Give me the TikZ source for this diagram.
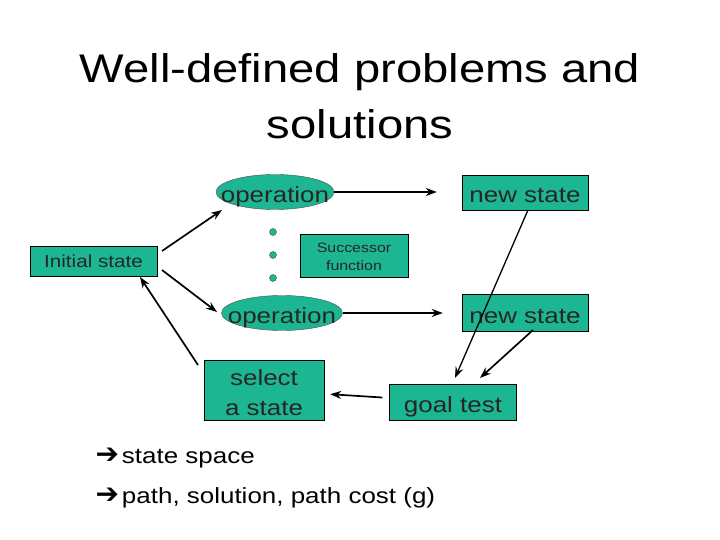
\documentclass[tikz,border=0pt]{standalone}
\usepackage{fontspec}
\setmainfont[FakeStretch=1.18]{Liberation Sans}
\newfontfamily\symfont{DejaVu Sans}
\usetikzlibrary{shapes.geometric,arrows.meta}
\definecolor{teal1}{RGB}{28,182,146}
\tikzset{
  sbox/.style={draw=black, fill=teal1, inner sep=0pt, align=center, text=black!85},
  sell/.style={ellipse, draw=black!70, fill=teal1, inner sep=0pt},
  big/.style={font=\fontsize{22}{30}\selectfont, text=black!85},
  small/.style={font=\fontsize{13.5}{18}\selectfont, text=black!85, inner sep=0pt, anchor=base},
  one/.style={text height=20pt, text depth=0pt},
  arr/.style={-{Stealth[length=11pt,width=8pt]}, line width=1.7pt},
  dotc/.style={circle, draw=black!70, fill=teal1, minimum size=7pt, inner sep=0pt}
}
\begin{document}
\begin{tikzpicture}[x=1pt,y=-1pt]
\useasboundingbox (0,0) rectangle (720,540);
\node[font=\fontsize{40}{44}\selectfont] (t1) at (360,72) {Well-defined problems and};
\node[font=\fontsize{40}{44}\selectfont] (t2) at (360,124) {solutions};
\node[sell, minimum width=118pt, minimum height=35pt] (op1) at (275,192) {};
\node[big, one, inner sep=0pt] (op1t) at (275,192.5) {operation};
\node[sbox, big, one, minimum width=126pt, minimum height=35pt] (ns1) at (525,192.5) {new state};
\node[sbox, minimum width=108pt, minimum height=43pt] (sf) at (354,255.5) {};
\node[small] (sf1) at (354,252) {Successor};
\node[small] (sf2) at (354,270.5) {function};
\node[dotc] (d1) at (273,232) {};
\node[dotc] (d2) at (273,255) {};
\node[dotc] (d3) at (273,278) {};
\node[sbox, font=\fontsize{17.5}{20}\selectfont, text height=12pt, text depth=0pt, minimum width=127pt, minimum height=30pt] (init) at (93.5,261) {Initial state};
\node[sell, minimum width=121pt, minimum height=35pt] (op2) at (282,313) {};
\node[big, one, inner sep=0pt] (op2t) at (op2.center) {operation};
\node[sbox, big, one, minimum width=126pt, minimum height=37pt] (ns2) at (525,313) {new state};
\node[sbox, big, one, minimum width=127pt, minimum height=36pt] (gt) at (453,402) {goal test};
\node[sbox, minimum width=120pt, minimum height=60pt] (sel) at (264,390) {};
\node[big, inner sep=0pt, anchor=base] (sel1) at (264,385) {select};
\node[big, inner sep=0pt, anchor=base] (sel2) at (264,415) {a state};
\coordinate (i1) at (162,251);
\coordinate (i2) at (162,270);
\coordinate (ib) at (140,277);
\coordinate (sl) at (198,365);
\draw[arr] (i1) -- (222,210);
\draw[arr] (i2) -- (217,312);
\draw[arr, shorten >=25pt] (op1.east) -- (ns1.west |- op1.east);
\draw[arr, shorten >=19pt] (op2.east) -- (ns2.west);
\draw[arr, line width=1.3pt] (528,210) -- (455,378);
\draw[arr] (533,330) -- (480,378);
\draw[arr, shorten >=6pt, shorten <=7pt] (gt) -- (sel);
\draw[arr] (sl) -- (ib);
\node[anchor=west, font=\fontsize{22}{24}\selectfont] (b1) at (92,458) {{\symfont\bfseries\fontsize{28}{24}\selectfont ➔}\hspace{3pt}state space};
\node[anchor=west, font=\fontsize{22}{24}\selectfont] (b2) at (92,498) {{\symfont\bfseries\fontsize{28}{24}\selectfont ➔}\hspace{3pt}path, solution, path cost (g)};
\end{tikzpicture}
\end{document}
